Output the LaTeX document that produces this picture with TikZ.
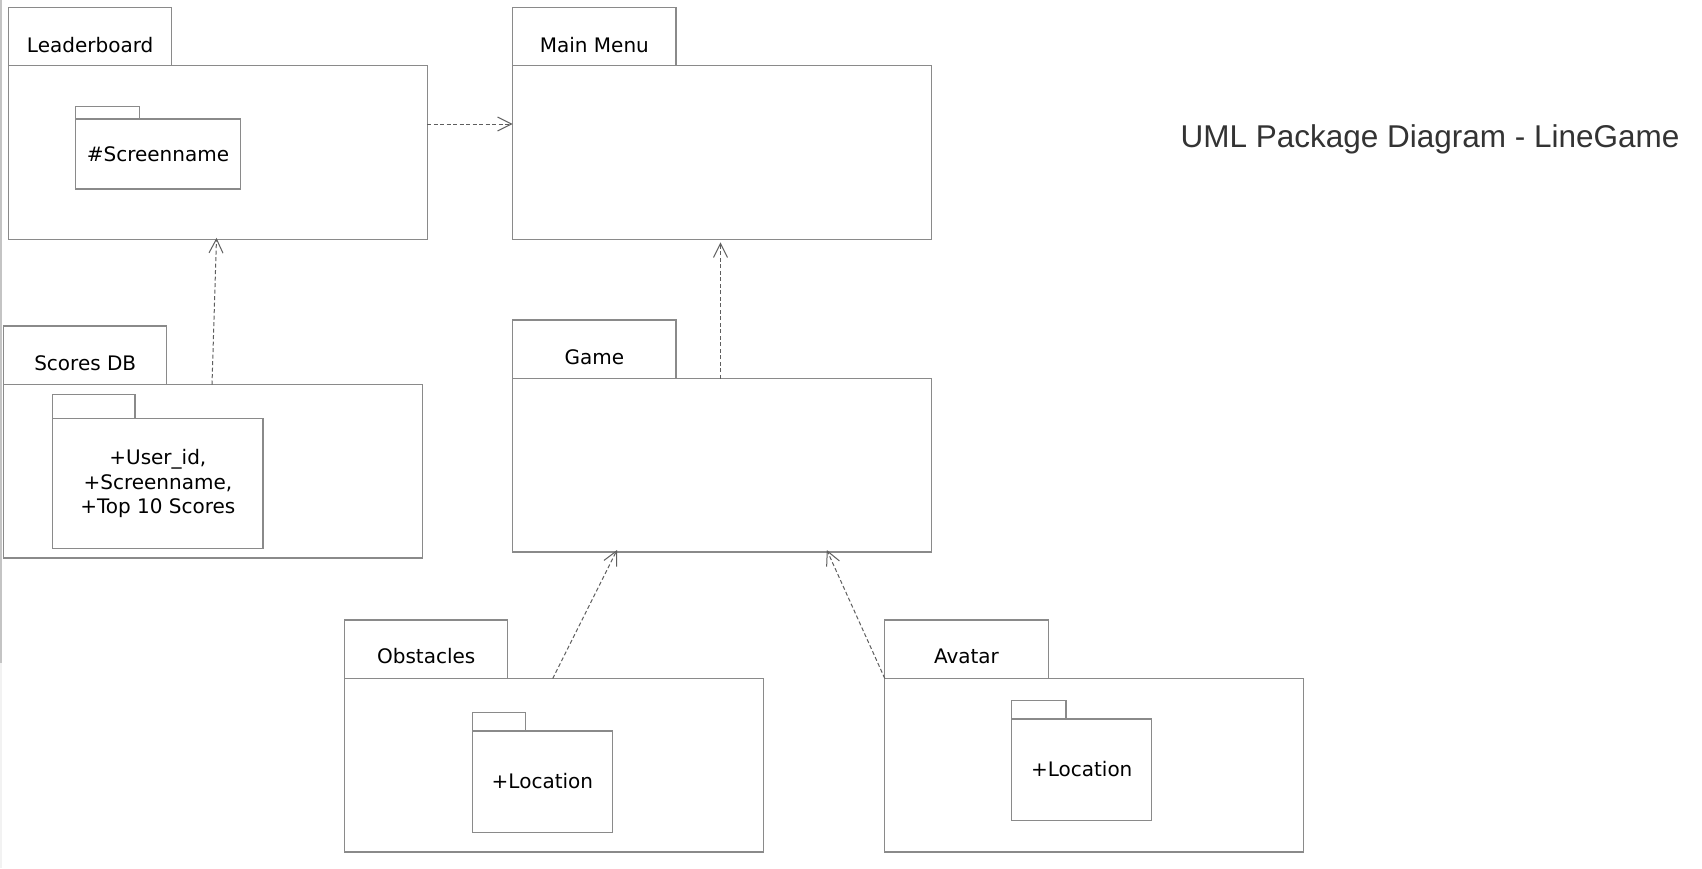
\documentclass[tikz,border=0pt]{standalone}
\usepackage{fontspec}
\setmainfont{DejaVu Sans}
\newfontfamily\titlefont{Liberation Sans}
\usetikzlibrary{arrows.meta,calc}
\definecolor{lc}{HTML}{8A8A8A}
\definecolor{cc}{HTML}{5E5E5E}
\definecolor{tc}{HTML}{333333}
\definecolor{stripc}{HTML}{C4C4C4}
\definecolor{stripl}{HTML}{F2F2F2}
\tikzset{
  pkgline/.style={draw=lc, line width=1.1pt},
  tabbox/.style={pkgline, rectangle, anchor=north west, inner sep=0pt, outer sep=0pt,
    minimum width=163.3pt, minimum height=58.5pt},
  bodybox/.style={pkgline, rectangle, anchor=north west, inner sep=0pt, outer sep=0pt,
    minimum width=418.7pt, minimum height=173.5pt},
  pkglabel/.style={anchor=base, inner sep=0pt, font=\fontsize{20}{24.3}\selectfont},
  innertab/.style={pkgline, rectangle, anchor=north west, inner sep=0pt, outer sep=0pt},
  innerbody/.style={pkgline, rectangle, anchor=north west, inner sep=0pt, outer sep=0pt,
    align=center, font=\fontsize{20}{24.3}\selectfont},
  dep/.style={draw=cc, line width=1pt, dash pattern=on 4pt off 2.5pt,
    -{Straight Barb[length=14pt,width=14pt,line width=1pt]}},
}
\begin{document}
\begin{tikzpicture}[x=1pt,y=-1pt]
\useasboundingbox (0,0) rectangle (1702,868);
\fill[white] (0,0) rectangle (1702,868);
\fill[stripc] (0,0) rectangle (2,663);
\fill[stripl] (0,663) rectangle (2,868);

% ---- Leaderboard
\node[tabbox] (lbtab) at (8.5,7.4) {};
\node[bodybox] (lb) at (8.5,65.9) {};
\node[pkglabel] (lblbl) at ($(lb.north west)+(81.65,-13.8)$) {Leaderboard};
\node[innertab, minimum width=64pt, minimum height=12.3pt] (lbitab) at (75.7,106.7) {};
\node[innerbody, minimum width=164.6pt, minimum height=70pt] (lbi) at (75.7,119) {\#Screenname};

% ---- Main Menu
\node[tabbox] (mmtab) at (512.7,7.4) {};
\node[bodybox] (mm) at (512.7,65.9) {};
\node[pkglabel] (mmlbl) at ($(mm.north west)+(81.65,-13.8)$) {Main Menu};

% ---- Scores DB
\node[tabbox] (sdbtab) at (3.6,326) {};
\node[bodybox] (sdb) at (3.6,384.5) {};
\node[pkglabel] (sdblbl) at ($(sdb.north west)+(81.65,-14.5)$) {Scores DB};
\node[innertab, minimum width=82.3pt, minimum height=24pt] (sdbitab) at (52.7,394.7) {};
\node[innerbody, minimum width=210.3pt, minimum height=130pt] (sdbi) at (52.7,418.7)
  {+User\_id,\\+Screenname,\\+Top 10 Scores};

% ---- Game
\node[tabbox] (gametab) at (512.7,320) {};
\node[bodybox] (game) at (512.7,378.5) {};
\node[pkglabel] (gamelbl) at ($(game.north west)+(81.65,-14.5)$) {Game};

% ---- Obstacles
\node[tabbox] (obstab) at (344.6,620) {};
\node[bodybox] (obs) at (344.6,678.5) {};
\node[pkglabel] (obslbl) at ($(obs.north west)+(81.65,-14.8)$) {Obstacles};
\node[innertab, minimum width=53.6pt, minimum height=18.2pt] (obsitab) at (472.3,712.8) {};
\node[innerbody, minimum width=140.2pt, minimum height=101.6pt] (obsi) at (472.3,731) {\raisebox{2.5pt}{+Location}};

% ---- Avatar
\node[tabbox] (avatab) at (884.8,620) {};
\node[bodybox] (ava) at (884.8,678.5) {};
\node[pkglabel] (avalbl) at ($(ava.north west)+(81.65,-14.8)$) {Avatar};
\node[innertab, minimum width=54.4pt, minimum height=18.3pt] (avaitab) at (1011.6,700.7) {};
\node[innerbody, minimum width=140.2pt, minimum height=101.5pt] (avai) at (1011.6,719) {\raisebox{2.5pt}{+Location}};

% ---- Title
\node[anchor=base, inner sep=0pt, text=tc, font=\titlefont\fontsize{31.5}{36}\selectfont] (title)
  at (1430,147) {UML Package Diagram - LineGame};

% ---- Dependencies
\draw[dep] ($(lb.north east)+(0,58.1)$) -- ($(mm.north west)+(0,58.1)$);
\draw[dep] ($(sdb.north west)+(208.4,0)$) -- ($(lb.south west)+(208,-1.5)$);
\draw[dep] ($(game.north west)+(207.8,0)$) -- ($(mm.south west)+(207.8,3)$);
\draw[dep] ($(obs.north west)+(208.1,0)$) -- ($(game.south west)+(104.3,-2)$);
\draw[dep] (ava.north west) -- ($(game.south west)+(314.1,-2)$);
\end{tikzpicture}
\end{document}
